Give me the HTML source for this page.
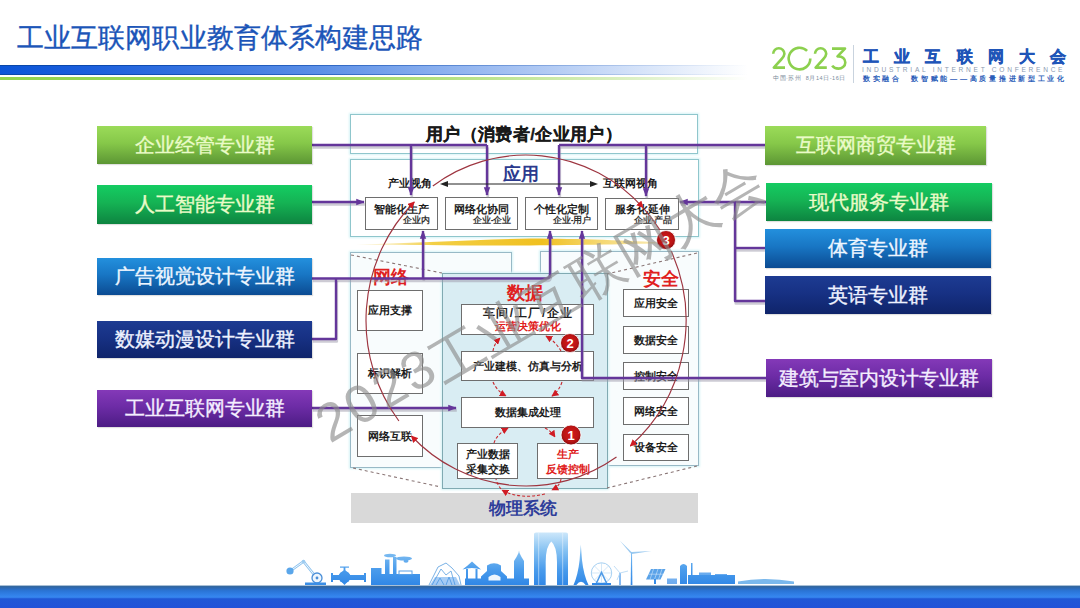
<!DOCTYPE html>
<html><head><meta charset="utf-8">
<style>
*{margin:0;padding:0;box-sizing:border-box}
html,body{width:1080px;height:608px;overflow:hidden;background:#fff}
body{position:relative;font-family:"Liberation Sans",sans-serif;color:#1a1a1a}
.a{position:absolute}
.title{left:17px;top:22px;font-size:27px;color:#1b55b8;letter-spacing:0.1px;-webkit-text-stroke:0.35px #1b55b8;white-space:nowrap;line-height:32px}
.bar{left:0;top:65px;width:748px;height:10px;background:linear-gradient(90deg,#0b55d8 0%,#1c5fdc 12%,#3a76e0 28%,#5a8ee6 42%,#88aeee 58%,#b4ccf4 74%,#dde8fa 88%,rgba(255,255,255,0) 100%)}
.bar:before{content:"";position:absolute;left:0;right:0;top:0;height:1px;background:linear-gradient(90deg,#0a47a8,rgba(255,255,255,0))}
.bar:after{content:"";position:absolute;left:0;right:0;bottom:0;height:1px;background:linear-gradient(90deg,#0a47a8,rgba(255,255,255,0))}
.gbar{left:0;top:77px;width:748px;height:3px;background:linear-gradient(90deg,#93d44f 0%,#9ad657 40%,#bce48e 65%,#ddf1c6 85%,rgba(255,255,255,0) 100%)}
.lb{position:absolute;height:38px;color:#eafbc8;font-size:19.5px;line-height:38px;text-align:center;white-space:nowrap;box-shadow:1px 1px 1px rgba(0,0,0,.12);-webkit-text-stroke:0.35px currentColor}
.g1{background:linear-gradient(180deg,#9bdb59 0%,#86c849 45%,#5c9634 100%)}
.g2{background:linear-gradient(180deg,#14cc62 0%,#15b354 45%,#0d8440 100%)}
.b1{background:linear-gradient(180deg,#2390dd 0%,#1876c4 45%,#0b4b92 100%);color:#eef6ff}
.n1{background:linear-gradient(180deg,#1d3b92 0%,#173184 45%,#0f246a 100%);color:#eef2ff}
.p1{background:linear-gradient(180deg,#8439b8 0%,#6d2ca6 45%,#4c1c84 100%);color:#f4eeff}
.frame{position:absolute;border:1px solid #8fc6cc;box-shadow:0 0 2px 1px #d6f3f6}
.sb{position:absolute;border:1.3px solid #6e6e6e;background:#fff;text-align:center;font-weight:bold;font-size:11.5px;line-height:14px;color:#1e1e1e}
.sub{font-size:8.5px;font-weight:bold;color:#333;position:absolute;right:5.5px;bottom:4px;line-height:10px}
.red{color:#e02020}
</style></head><body>

<div class="a title">工业互联网职业教育体系构建思路</div>
<div class="a bar"></div>
<div class="a gbar"></div>

<!-- logo -->
<div class="a" style="left:853px;top:45px;width:1px;height:38px;background:#c9d3de"></div>
<svg class="a" style="left:0;top:0" width="860" height="80" viewBox="0 0 860 80">
 <g fill="none" stroke="#8cd04e" stroke-width="2.6" stroke-linecap="butt" stroke-linejoin="round">
  <path d="M773.2 53.8 A5.6 5.6 0 0 1 784.4 53.8 Q784.2 56.5 781.2 59.5 L773.8 67.6 L785 67.6"/>
  <path d="M807.1 50.9 A10.8 10.8 0 1 0 810.3 58.5"/>
  <path d="M815 53.8 A5.6 5.6 0 0 1 826.2 53.8 Q826 56.5 823 59.5 L815.6 67.6 L826.8 67.6"/>
  <path d="M832 48.6 L845 48.6 L837.5 56.4 C842.5 56 845.3 59.3 845.3 62.4 C845.3 66.4 841.6 68.6 838.6 68.6 C835.6 68.6 833.2 67.2 832.2 65.6"/>
 </g>
</svg>
<div class="a" style="left:773px;top:75px;font-size:5.5px;line-height:6px;color:#7a8a9a;white-space:nowrap;letter-spacing:0.55px">中国·苏州&nbsp;&nbsp;8月14日-16日</div>
<div class="a" style="left:863px;top:46px;font-size:16px;font-weight:900;color:#1f55b8;letter-spacing:15.2px;-webkit-text-stroke:0.5px #1f55b8;white-space:nowrap;line-height:22px">工业互联网大会</div>
<div class="a" style="left:862px;top:66px;font-size:6.6px;color:#8a9ab0;letter-spacing:2.72px;white-space:nowrap;line-height:7px">INDUSTRIAL INTERNET CONFERENCE</div>
<div class="a" style="left:863px;top:73.5px;font-size:7.2px;font-weight:bold;color:#2a5cb8;letter-spacing:2.7px;white-space:nowrap;line-height:9px">数实融合&nbsp;&nbsp;数智赋能——高质量推进新型工业化</div>

<!-- central frames -->
<div class="frame" style="left:350px;top:114px;width:348px;height:40px;background:#fff"></div>
<div class="a" style="left:350px;top:124.5px;width:348px;text-align:center;font-size:17px;font-weight:bold;line-height:20px;letter-spacing:0.4px;-webkit-text-stroke:0.3px #1a1a1a">用户（消费者/企业用户）</div>
<div class="frame" style="left:350px;top:159px;width:349px;height:78px;background:#fff"></div>
<div class="a" style="left:503px;top:163px;font-size:18px;font-weight:bold;color:#2c3a8e;line-height:22px">应用</div>
<div class="a" style="left:388px;top:176px;font-size:11px;font-weight:bold;line-height:14px">产业视角</div>
<div class="a" style="left:603px;top:176px;font-size:11px;font-weight:bold;line-height:14px">互联网视角</div>

<div class="sb" style="left:365px;top:197px;width:73px;height:33px;padding-top:3.5px;font-size:11px">智能化生产<span class="sub" style="right:7.5px">企业内</span></div>
<div class="sb" style="left:445px;top:197px;width:73px;height:33px;padding-top:3.5px;font-size:11px">网络化协同<span class="sub">企业-企业</span></div>
<div class="sb" style="left:525px;top:197px;width:73px;height:33px;padding-top:3.5px;font-size:11px">个性化定制<span class="sub">企业-用户</span></div>
<div class="sb" style="left:605px;top:198px;width:74px;height:32px;padding-top:2.5px;font-size:11px">服务化延伸<span class="sub">企业-产品</span></div>

<div class="frame" style="left:350px;top:252px;width:162px;height:216px;background:#f8fcfd;border-color:#98b9c6"></div>
<div class="frame" style="left:540px;top:251px;width:159px;height:215px;background:#f8fcfd;border-color:#98b9c6"></div>
<div class="frame" style="left:442px;top:273px;width:166px;height:216px;background:#d9edf3;border-color:#80aab2"></div>

<div class="a red" style="left:373px;top:267px;font-size:17.5px;font-weight:bold;line-height:20px">网络</div>
<div class="a red" style="left:507px;top:283px;font-size:17.5px;font-weight:bold;line-height:20px">数据</div>
<div class="a red" style="left:643px;top:269px;font-size:17.5px;font-weight:bold;line-height:20px">安全</div>

<div class="sb" style="left:357px;top:290px;width:66px;height:41px;line-height:39px;font-size:11px">应用支撑</div>
<div class="sb" style="left:357px;top:353px;width:66px;height:41px;line-height:39px;font-size:11px">标识解析</div>
<div class="sb" style="left:357px;top:415px;width:66px;height:42px;line-height:40px;font-size:11px">网络互联</div>

<div class="sb" style="left:623px;top:289px;width:66px;height:28px;line-height:26px;font-size:11px">应用安全</div>
<div class="sb" style="left:623px;top:326px;width:66px;height:28px;line-height:26px;font-size:11px">数据安全</div>
<div class="sb" style="left:623px;top:362px;width:66px;height:28px;line-height:26px;font-size:11px">控制安全</div>
<div class="sb" style="left:623px;top:397px;width:66px;height:28px;line-height:26px;font-size:11px">网络安全</div>
<div class="sb" style="left:623px;top:434px;width:66px;height:27px;line-height:25px;font-size:11px">设备安全</div>

<div class="sb" style="left:461px;top:304px;width:133px;height:31px;font-size:11px;line-height:13px;padding-top:2px"><span style="font-size:12px;letter-spacing:1.6px;margin-right:-1.6px">车间/工厂/企业</span><br><span class="red">运营决策优化</span></div>
<div class="sb" style="left:461px;top:351px;width:133px;height:30px;line-height:28px;font-size:11px">产业建模、仿真与分析</div>
<div class="sb" style="left:461px;top:397px;width:133px;height:31px;line-height:29px;font-size:11px">数据集成处理</div>
<div class="sb" style="left:457px;top:443px;width:61px;height:36px;line-height:15px;padding-top:3px;font-size:11px">产业数据<br>采集交换</div>
<div class="sb red" style="left:537px;top:443px;width:61px;height:36px;line-height:15px;padding-top:3px;font-size:11px;color:#e02020">生产<br>反馈控制</div>

<div class="a" style="left:351px;top:493px;width:347px;height:30px;background:#d9d9d9"></div>
<div class="a" style="left:489px;top:498px;font-size:17px;font-weight:bold;color:#2e3d9a;line-height:22px">物理系统</div>


<!-- lines overlay -->
<svg class="a" style="left:0;top:0" width="1080" height="608" viewBox="0 0 1080 608">
 <defs>
  <marker id="pa" viewBox="0 0 10 10" refX="9" refY="5" markerWidth="3.6" markerHeight="3.6" orient="auto"><path d="M0 1.3 L10 5 L0 8.7 Z" fill="#64369a"/></marker>
  <marker id="ra" viewBox="0 0 10 10" refX="9" refY="5" markerWidth="7" markerHeight="7" orient="auto" markerUnits="userSpaceOnUse"><path d="M0 0 L10 5 L0 10 Z" fill="#d01c24"/></marker>
  <radialGradient id="rc" cx="0.5" cy="0.45" r="0.55"><stop offset="0" stop-color="#d81a1a"/><stop offset="0.7" stop-color="#b81414"/><stop offset="1" stop-color="#860a0e"/></radialGradient>
  <linearGradient id="yel" x1="0" x2="1" y1="0" y2="0">
   <stop offset="0" stop-color="#f6e39a" stop-opacity="0.3"/>
   <stop offset="0.25" stop-color="#f3cf45"/>
   <stop offset="0.6" stop-color="#f0c020"/>
   <stop offset="1" stop-color="#f4d870" stop-opacity="0.5"/>
  </linearGradient>
 </defs>
 <!-- yellow swoosh -->
 <path d="M356 244.5 C420 243 480 239 530 238.6 C580 238.8 630 240.5 666 243 C630 244.3 580 245 530 245.4 C470 245.6 420 245.3 356 244.5 Z" fill="url(#yel)"/>
 <!-- dashed perspective lines -->
 <g stroke="#8a7676" stroke-width="1.1" stroke-dasharray="3 3" fill="none">
  <path d="M351 255 L442 273"/>
  <path d="M697 253 L607 274"/>
  <path d="M353 468 L441 487"/>
  <path d="M697 466 L607 488"/>
 </g>
 <!-- purple lines -->
 <g stroke="#9c98aa" stroke-opacity="0.5" stroke-width="2.6" fill="none" stroke-linejoin="round" transform="translate(0.8,2.4)">
  <path d="M312 145 L487 145"/>
  <path d="M411 145 L411 195"/>
  <path d="M487 145 L487 195"/>
  <path d="M312 202 L364 202"/>
  <path d="M312 278.5 L546 278.5 Q550 278.5 550 274.5"/>
  <path d="M312 339 L336 339 L336 278.5"/>
  <path d="M423 278.5 L423 231"/>
  <path d="M550 276 L550 231"/>
  <path d="M312 408 L456 408"/>
  <path d="M765 145 L559 145"/>
  <path d="M559 145 L559 195"/>
  <path d="M646 145 L646 196"/>
  <path d="M766 202 L680 202"/>
  <path d="M735 202 L735 301 L765 301"/>
  <path d="M735 248 L765 248"/>
  <path d="M766 378 L582 378 L582 231"/>
 </g>
 <g stroke="#64369a" stroke-width="2.4" fill="none" stroke-linejoin="round">
  <path d="M312 145 L487 145"/>
  <path d="M411 145 L411 195" marker-end="url(#pa)"/>
  <path d="M487 145 L487 195" marker-end="url(#pa)"/>
  <path d="M312 202 L364 202" marker-end="url(#pa)"/>
  <path d="M312 278.5 L546 278.5 Q550 278.5 550 274.5"/>
  <path d="M312 339 L336 339 L336 278.5"/>
  <path d="M423 278.5 L423 231" marker-end="url(#pa)"/>
  <path d="M550 276 L550 231" marker-end="url(#pa)"/>
  <path d="M312 408 L456 408" marker-end="url(#pa)"/>
  <path d="M765 145 L559 145"/>
  <path d="M559 145 L559 195" marker-end="url(#pa)"/>
  <path d="M646 145 L646 196" marker-end="url(#pa)"/>
  <path d="M766 202 L680 202" marker-end="url(#pa)"/>
  <path d="M735 202 L735 301 L765 301"/>
  <path d="M735 248 L765 248"/>
  <path d="M766 378 L582 378 L582 231" marker-end="url(#pa)"/>
 </g>
 <!-- double arrow 产业视角 - 互联网视角 -->
 <g stroke="#222" stroke-width="1" fill="none">
  <path d="M446 184 L592 184"/>
 </g>
 <path d="M440 184 L448 181 L448 187 Z" fill="#222"/>
 <path d="M598 184 L590 181 L590 187 Z" fill="#222"/>
 <!-- red big circle arcs (ellipse center 526,320.5 rx160 ry165.5) -->
 <g stroke="#9e3540" stroke-width="1.15" fill="none">
  <path d="M398.9 421 A160 165.5 0 0 1 414.3 202" marker-end="url(#ra)"/>
  <path d="M432.8 186 A160 165.5 0 0 1 643 207.6" marker-end="url(#ra)"/>
  <path d="M643 207.6 A160 165.5 0 0 1 660 230.1"/>
  <path d="M671.2 251 A160 165.5 0 0 1 630.3 446" marker-end="url(#ra)"/>
  <path d="M616.5 457 A160 165.5 0 0 1 411.4 436" marker-end="url(#ra)"/>
 </g>
 <!-- small red dashed arrows in data box -->
 <g stroke="#c8282e" stroke-width="1.1" fill="none" stroke-dasharray="3 2">
  <path d="M493 351 Q494 344 500 338" marker-end="url(#ra)"/>
  <path d="M561 351 Q556 342 546 336" marker-end="url(#ra)"/>
  <path d="M493 382 Q497 391 506 396" marker-end="url(#ra)"/>
  <path d="M562 382 Q559 391 552 396" marker-end="url(#ra)"/>
  <path d="M494 443 Q497 434 508 428" marker-end="url(#ra)"/>
  <path d="M545 428 Q551 431 555 437" marker-end="url(#ra)"/>
  <path d="M561 479 Q560 486 552 490" marker-end="url(#ra)"/>
  <path d="M545 494 Q520 500 502 490" marker-end="url(#ra)"/>
  <path d="M501 489 Q497 484 496 479"/>
 </g>
 <!-- numbered circles -->
 <g font-family="Liberation Sans, sans-serif" font-weight="bold" font-size="13" fill="#fff" text-anchor="middle">
  <circle cx="571" cy="435" r="10" fill="url(#rc)" stroke="#fff" stroke-width="0.8"/>
  <text x="571" y="440">1</text>
  <circle cx="570" cy="343" r="9.5" fill="url(#rc)" stroke="#fff" stroke-width="0.8"/>
  <text x="570" y="348">2</text>
  <circle cx="666" cy="240" r="9.5" fill="url(#rc)" stroke="#fff" stroke-width="0.8"/>
  <text x="666" y="245">3</text>
 </g>
</svg>

<!-- left boxes -->
<div class="lb g1" style="left:97px;top:126px;width:215px">企业经管专业群</div>
<div class="lb g2" style="left:97px;top:185px;width:215px;height:39px;line-height:39px">人工智能专业群</div>
<div class="lb b1" style="left:97px;top:258px;width:215px;height:37px;line-height:37px">广告视觉设计专业群</div>
<div class="lb n1" style="left:97px;top:321px;width:215px;height:37px;line-height:37px">数媒动漫设计专业群</div>
<div class="lb p1" style="left:97px;top:390px;width:215px;height:37px;line-height:37px">工业互联网专业群</div>

<!-- right boxes -->
<div class="lb g1" style="left:765px;top:126px;width:221px;height:39px;line-height:39px">互联网商贸专业群</div>
<div class="lb g2" style="left:766px;top:183px;width:226px">现代服务专业群</div>
<div class="lb b1" style="left:765px;top:229px;width:226px;height:39px;line-height:39px">体育专业群</div>
<div class="lb n1" style="left:765px;top:276px;width:226px">英语专业群</div>
<div class="lb p1" style="left:766px;top:359px;width:226px">建筑与室内设计专业群</div>



<!-- bottom band + skyline -->
<svg class="a" style="left:0;top:520px" width="1080" height="88" viewBox="0 520 1080 88">
 <defs>
  <linearGradient id="sky" x1="0" x2="0" y1="531" y2="586" gradientUnits="userSpaceOnUse">
   <stop offset="0" stop-color="#d2eafb"/>
   <stop offset="0.35" stop-color="#86c2f2"/>
   <stop offset="0.7" stop-color="#4a9cec"/>
   <stop offset="1" stop-color="#2f86e6"/>
  </linearGradient>
  <linearGradient id="band" x1="0" x2="0" y1="585" y2="608" gradientUnits="userSpaceOnUse">
   <stop offset="0" stop-color="#9ab8d4"/>
   <stop offset="0.05" stop-color="#35689c"/>
   <stop offset="0.12" stop-color="#2d68b0"/>
   <stop offset="0.25" stop-color="#2a74d6"/>
   <stop offset="0.45" stop-color="#3282ea"/>
   <stop offset="0.53" stop-color="#3888f0"/>
   <stop offset="0.6" stop-color="#2058d6"/>
   <stop offset="1" stop-color="#2252d8"/>
  </linearGradient>
 </defs>
 <g fill="url(#sky)">
  <!-- robot arm -->
  <g fill="none" stroke="#8cc2ee" stroke-width="2.6" stroke-linecap="round">
   <path d="M291 570.5 L303.5 561.5 L316 577"/>
  </g>
  <g fill="none" stroke="#fff" stroke-width="0.9" stroke-linecap="round">
   <path d="M291 570.5 L303.5 561.5 L316 577"/>
  </g>
  <circle cx="290" cy="571" r="3.6" fill="#5aa6ea"/>
  <circle cx="303.5" cy="561.5" r="1.8" fill="#9ccbf0"/>
  <circle cx="317" cy="578" r="5" fill="#eef6fd" stroke="#4a8fd8" stroke-width="1.3"/>
  <circle cx="317" cy="578" r="1.4" fill="#4a8fd8"/>
  <rect x="305" y="582.5" width="21" height="2.5" fill="#3a8ee6"/>
  <!-- valve -->
  <rect x="331" y="575" width="35" height="5"/>
  <rect x="331" y="573" width="2" height="9"/>
  <rect x="364" y="573" width="2" height="9"/>
  <path d="M344.5 569.5 L352 577 L344.5 585 L337 577 Z"/>
  <circle cx="344.5" cy="577" r="6"/>
  <rect x="343.6" y="567" width="1.8" height="4"/>
  <rect x="340" y="566.5" width="9" height="1.2"/>
  <!-- factory -->
  <rect x="371" y="568" width="10.5" height="17"/>
  <rect x="381" y="574" width="39" height="11"/>
  <rect x="385" y="559.5" width="4.5" height="15"/>
  <rect x="393" y="557" width="3.5" height="17"/>
  <ellipse cx="390" cy="555.5" rx="6" ry="1.8"/>
  <ellipse cx="404" cy="558.5" rx="8" ry="2"/>
  <ellipse cx="406" cy="561" rx="2.5" ry="1.8"/>
  <rect x="399" y="571" width="13" height="3.5" fill="none" stroke="#5aa0e6" stroke-width="1"/>
  <!-- coaster lattice -->
  <g fill="none" stroke="#7ab2e6" stroke-width="1">
   <path d="M429 585 L438 567 L446 563 L452 568 L459 576 L461 585"/>
   <path d="M432 585 L441 569 L446 575 L451 571 L455 585"/>
   <path d="M436 585 L440 578 L444 585 M446 585 L449 577 L452 585"/>
  </g>
  <path d="M430 585 L435 577 L456 577 L460 585 Z" fill-opacity="0.45"/>
  <!-- pavilion + base -->
  <rect x="465" y="578.5" width="64" height="6.5"/>
  <path d="M462.5 569.5 Q472 566.5 481 569.5 L477 566 L472 561.5 L467 566 Z"/>
  <rect x="466" y="569" width="2" height="10"/>
  <rect x="475.5" y="569" width="2" height="10"/>
  <!-- arch building -->
  <path d="M481 585 L481 576.5 L487 571 L487 565.5 Q494 561 501 565.5 L501 571 L507 576.5 L507 585 Z"/>
  <path d="M488.5 580.5 L488.5 577 Q494.5 572 500.5 577 L500.5 580.5 Z" fill="#eef6fd"/>
  <!-- pagoda -->
  <path d="M514 580 L514 561 L516.5 557 L518.5 553 L519 550.5 L519.5 553 L521.5 557 L524 561 L524 580 Z"/>
  <!-- gate of the orient -->
  <path d="M534 585 L534 534 Q534 532.5 536 532.5 L566 532.5 Q568 532.5 568 534 L568 585 L557 585 L557 562 Q556.8 546 551.3 541.5 Q545.8 546 545.7 562 L545.7 585 Z"/>
  <rect x="538" y="533" width="1.2" height="52" fill="#eaf5fd" opacity="0.45"/>
  <rect x="562" y="533" width="1.2" height="52" fill="#eaf5fd" opacity="0.45"/>
  <!-- tower -->
  <path d="M573.5 585 Q578 575 579.6 560 L580.8 544.5 L582 560 Q583.6 575 588.5 585 L585.6 585 Q581 578.5 576.4 585 Z"/>
  <!-- ferris wheel -->
  <circle cx="601.5" cy="573" r="10.2" fill="none" stroke="#a6d0f2" stroke-width="1"/>
  <g stroke="#b6d8f4" stroke-width="0.6"><path d="M591.3 573 H611.7 M601.5 562.8 V583.2 M594.3 565.8 L608.7 580.2 M608.7 565.8 L594.3 580.2"/></g>
  <path d="M595.5 585 L601.5 572.5 L607.5 585" fill="none" stroke="#4f9ae6" stroke-width="1.6"/>
  <rect x="592" y="583" width="19" height="2"/>
  <!-- small turbine -->
  <rect x="619.4" y="573" width="1.2" height="12"/>
  <path d="M620 573 L614 566 M620 573 L628 571 M620 573 L617 580" stroke="#b0d4f2" stroke-width="0.8" fill="none"/>
  <!-- big turbine -->
  <path d="M630.7 585 L631.1 552 L632 552 L632.4 585 Z"/>
  <path d="M631.5 552 L619.7 540.6 L630.6 553.6 Z" fill="#9ccaf0"/>
  <path d="M631.5 552 L651.5 551 L632 554 Z" fill="#9ccaf0"/>
  <path d="M631.5 552 L623.6 567.8 L630.8 553.5 Z" fill="#8cc2ee"/>
  <!-- solar panel -->
  <path d="M646 579.5 L651 569 L665.5 569 L660.5 579.5 Z" fill="#5aa2e8"/>
  <g stroke="#e6f2fc" stroke-width="0.5"><path d="M648.5 574.2 L663 574.2 M653.5 569 L650 579.5 M658 569 L654.5 579.5 M662 569 L658.5 579.5"/></g>
  <rect x="654" y="579" width="2" height="5"/>
  <!-- right factory -->
  <rect x="667" y="578.5" width="10" height="5.5" fill-opacity="0.7"/>
  <path d="M680 584 L680 566 Q683.5 562 687 566 L687 584 Z"/>
  <rect x="691" y="563" width="1.5" height="21"/>
  <rect x="688" y="575" width="47" height="9"/>
  <rect x="699" y="572.5" width="12" height="3" fill-opacity="0.8"/>
  <rect x="715" y="574" width="12" height="2" fill-opacity="0.8"/>
  <!-- bridge -->
  <path d="M738 584 L738 581.5 Q765 576.5 794 581.5 L794 584 Z" fill="#7ab8ec"/>
 </g>
 <rect x="0" y="585.4" width="1080" height="22.6" fill="url(#band)"/>
</svg>

<!-- watermark -->
<svg class="a" style="left:0;top:0" width="1080" height="608" viewBox="0 0 1080 608">
 <g font-family="Liberation Sans, sans-serif" fill="#8c8c8c" fill-opacity="0.64">
 <text x="0" y="0" transform="translate(330,444) rotate(-31)" font-size="53.5" letter-spacing="3">2023</text>
 <text x="131" y="0" transform="translate(331,451) rotate(-30.5)" font-size="54">工业互联网大会</text>
 </g>
</svg>
</body></html>
